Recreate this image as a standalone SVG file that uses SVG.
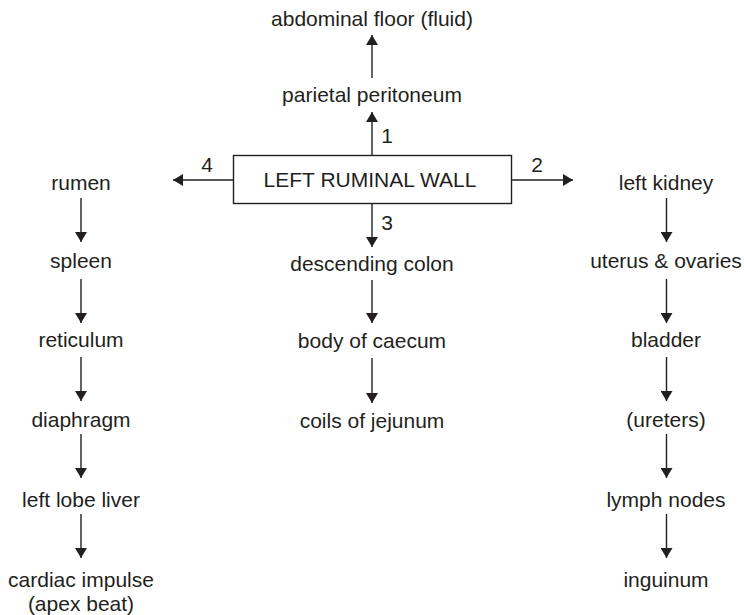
<svg xmlns="http://www.w3.org/2000/svg" width="744" height="615" viewBox="0 0 744 615">
<style>
text{font-family:"Liberation Sans",Arial,sans-serif;font-size:21px;fill:#231f20;text-anchor:middle}
.c{stroke:#231f20;stroke-width:1.4;fill:none}
</style>
<defs>
<marker id="ah" markerUnits="userSpaceOnUse" markerWidth="12" markerHeight="12" refX="10" refY="6" orient="auto">
<path d="M0,0 L10,6 L0,12 z" fill="#231f20"/>
</marker>
</defs>
<rect width="744" height="615" fill="#fff"/>
<g id="center">
<rect x="233.5" y="155.5" width="278" height="48" fill="#fff" stroke="#231f20" stroke-width="1.4"/>
<text x="370" y="187">LEFT RUMINAL WALL</text>
</g>
<g id="n-parietal"><text x="372" y="102">parietal peritoneum</text></g>
<g id="n-abdominal"><text x="372" y="26">abdominal floor (fluid)</text></g>
<g id="n-rumen"><text x="81" y="190">rumen</text></g>
<g id="n-spleen"><text x="81" y="268">spleen</text></g>
<g id="n-reticulum"><text x="81" y="347">reticulum</text></g>
<g id="n-diaphragm"><text x="81" y="427">diaphragm</text></g>
<g id="n-liver"><text x="81" y="507">left lobe liver</text></g>
<g id="n-cardiac"><text x="81" y="587">cardiac impulse</text><text x="81" y="611">(apex beat)</text></g>
<g id="n-kidney"><text x="666" y="190">left kidney</text></g>
<g id="n-uterus"><text x="666" y="268">uterus &amp; ovaries</text></g>
<g id="n-bladder"><text x="666" y="347">bladder</text></g>
<g id="n-ureters"><text x="666" y="427">(ureters)</text></g>
<g id="n-lymph"><text x="666" y="507">lymph nodes</text></g>
<g id="n-inguinum"><text x="666" y="587">inguinum</text></g>
<g id="n-colon"><text x="372" y="271">descending colon</text></g>
<g id="n-caecum"><text x="372" y="348">body of caecum</text></g>
<g id="n-jejunum"><text x="372" y="428">coils of jejunum</text></g>
<g id="connectors">
<line class="c" x1="372" y1="155" x2="372" y2="112" marker-end="url(#ah)"/>
<line class="c" x1="372" y1="78" x2="372" y2="35" marker-end="url(#ah)"/>
<line class="c" x1="233" y1="180" x2="173" y2="180" marker-end="url(#ah)"/>
<line class="c" x1="512" y1="180" x2="573" y2="180" marker-end="url(#ah)"/>
<line class="c" x1="372" y1="204" x2="372" y2="247" marker-end="url(#ah)"/>
<line class="c" x1="372" y1="280" x2="372" y2="323" marker-end="url(#ah)"/>
<line class="c" x1="372" y1="358" x2="372" y2="403" marker-end="url(#ah)"/>
<line class="c" x1="81" y1="198" x2="81" y2="242" marker-end="url(#ah)"/>
<line class="c" x1="81" y1="279" x2="81" y2="323" marker-end="url(#ah)"/>
<line class="c" x1="81" y1="357" x2="81" y2="401" marker-end="url(#ah)"/>
<line class="c" x1="81" y1="434" x2="81" y2="478" marker-end="url(#ah)"/>
<line class="c" x1="81" y1="514" x2="81" y2="558" marker-end="url(#ah)"/>
<line class="c" x1="666.5" y1="198" x2="666.5" y2="242" marker-end="url(#ah)"/>
<line class="c" x1="666.5" y1="279" x2="666.5" y2="323" marker-end="url(#ah)"/>
<line class="c" x1="666.5" y1="357" x2="666.5" y2="401" marker-end="url(#ah)"/>
<line class="c" x1="666.5" y1="434" x2="666.5" y2="478" marker-end="url(#ah)"/>
<line class="c" x1="666.5" y1="514" x2="666.5" y2="558" marker-end="url(#ah)"/>
<text x="387" y="143">1</text>
<text x="537" y="172">2</text>
<text x="387" y="230">3</text>
<text x="207" y="172">4</text>
</g>
</svg>
